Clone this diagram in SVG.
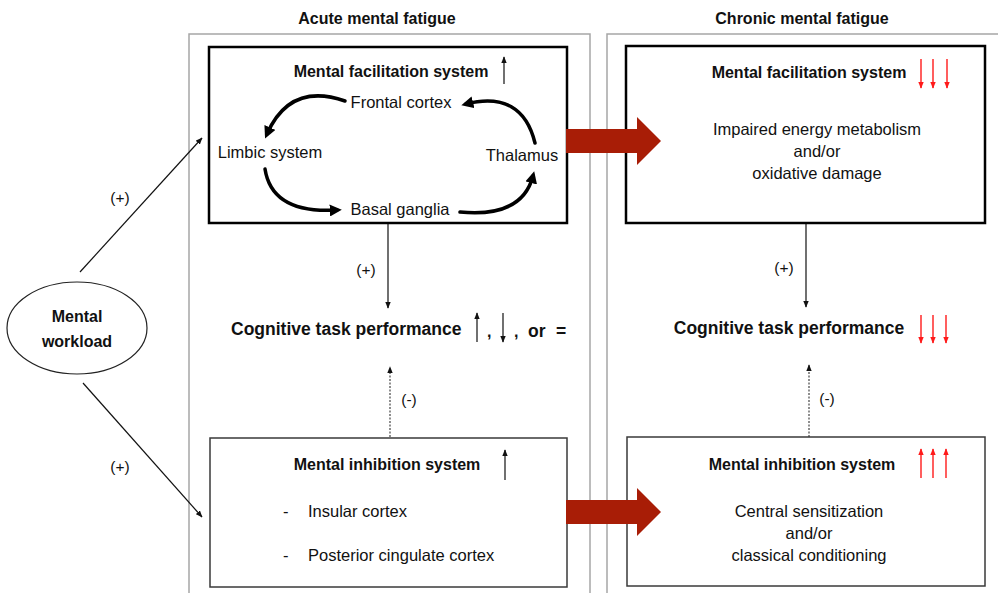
<svg xmlns="http://www.w3.org/2000/svg" width="998" height="593" viewBox="0 0 998 593">
  <style>
    text { font-family: "Liberation Sans", Arial, sans-serif; fill: #111; }
    .b { font-weight: bold; font-size: 16px; }
    .bl { font-weight: bold; font-size: 17.5px; }
    .r { font-size: 16.5px; }
    .s { font-size: 15.5px; }
    .mid { text-anchor: middle; }
    .panel { fill: none; stroke: #a6a6a6; stroke-width: 1.5; }
    .box1 { fill: #fff; stroke: #000; stroke-width: 2.5; }
    .box2 { fill: #fff; stroke: #3a3a3a; stroke-width: 1.5; }
    .ln { fill: none; stroke: #111; stroke-width: 1.2; }
    .dash { fill: none; stroke: #444; stroke-width: 1.2; stroke-dasharray: 2 1.5; }
    .loop { fill: none; stroke: #000; stroke-width: 3.5; stroke-linecap: round; }
    .red { fill: none; stroke: #ff1a1a; stroke-width: 1.4; }
    .blk { fill: #a81d06; }
  </style>
  <defs>
    <marker id="ah" viewBox="0 0 10 8" refX="9" refY="4" markerWidth="7" markerHeight="6" markerUnits="userSpaceOnUse" orient="auto">
      <path d="M0,0 L10,4 L0,8 z" fill="#111"/>
    </marker>
    <marker id="ahr" viewBox="0 0 10 8" refX="9" refY="4" markerWidth="7" markerHeight="6" markerUnits="userSpaceOnUse" orient="auto">
      <path d="M0,0 L10,4 L0,8 z" fill="#ff1a1a"/>
    </marker>
    <marker id="ahl" viewBox="0 0 10 10" refX="6" refY="5" markerWidth="12" markerHeight="12" markerUnits="userSpaceOnUse" orient="auto">
      <path d="M0,0 L10,5 L0,10 z" fill="#000"/>
    </marker>
  </defs>

  <!-- phase panels -->
  <g id="panels">
    <path class="panel" d="M189,593 V34 H590 V593"/>
    <path class="panel" d="M607,593 V34 H999"/>
    <text class="b mid" x="377" y="24">Acute mental fatigue</text>
    <text class="b mid" x="802" y="24">Chronic mental fatigue</text>
  </g>

  <!-- connectors -->
  <g id="connectors">
    <line class="ln" x1="80" y1="272" x2="202" y2="138" marker-end="url(#ah)"/>
    <line class="ln" x1="83" y1="383" x2="202" y2="517" marker-end="url(#ah)"/>
    <text class="s mid" x="120" y="203">(+)</text>
    <text class="s mid" x="120" y="472">(+)</text>

    <line class="ln" x1="388" y1="224" x2="388" y2="308" marker-end="url(#ah)"/>
    <text class="s mid" x="366" y="275">(+)</text>
    <line class="ln" x1="806" y1="224" x2="806" y2="307" marker-end="url(#ah)"/>
    <text class="s mid" x="784" y="273">(+)</text>

    <line class="dash" x1="390" y1="437" x2="390" y2="367" marker-end="url(#ah)"/>
    <text class="s mid" x="409" y="405">(-)</text>
    <line class="dash" x1="809" y1="437" x2="809" y2="365" marker-end="url(#ah)"/>
    <text class="s mid" x="827" y="404">(-)</text>
  </g>

  <!-- workload source -->
  <g id="workload">
    <ellipse cx="77" cy="328" rx="70" ry="46" fill="#fff" stroke="#222" stroke-width="1.2"/>
    <text class="b mid" x="77" y="322">Mental</text>
    <text class="b mid" x="77" y="347">workload</text>
  </g>

  <!-- acute: facilitation loop -->
  <g id="acute-facilitation">
    <rect class="box1" x="209" y="47" width="358" height="176"/>
    <text class="b mid" x="391" y="77">Mental facilitation system</text>
    <line class="ln" x1="504" y1="84" x2="504" y2="57" marker-end="url(#ah)"/>
    <text class="r mid" x="401" y="108">Frontal cortex</text>
    <text class="r mid" x="270" y="158">Limbic system</text>
    <text class="r mid" x="522" y="161">Thalamus</text>
    <text class="r mid" x="400" y="215">Basal ganglia</text>
    <path class="loop" d="M345,101 Q290,82 267,134" marker-end="url(#ahl)"/>
    <path class="loop" d="M265,169 Q272,214 337,210" marker-end="url(#ahl)"/>
    <path class="loop" d="M460,212 Q522,218 533,176" marker-end="url(#ahl)"/>
    <path class="loop" d="M535,143 Q522,90 466,104" marker-end="url(#ahl)"/>
  </g>

  <!-- acute: performance -->
  <g id="acute-performance">
    <text class="bl" x="231" y="335">Cognitive task performance</text>
    <line class="ln" x1="477" y1="342" x2="477" y2="313" marker-end="url(#ah)"/>
    <text class="b" x="487" y="337">,</text>
    <line class="ln" x1="503" y1="313" x2="503" y2="342" marker-end="url(#ah)"/>
    <text class="b" x="514" y="337">,</text>
    <text class="bl" x="528" y="337">or</text>
    <text class="bl" x="556" y="337">=</text>
  </g>

  <!-- acute: inhibition -->
  <g id="acute-inhibition">
    <rect class="box2" x="210" y="438" width="357" height="149"/>
    <text class="b mid" x="387" y="470">Mental inhibition system</text>
    <line class="ln" x1="505" y1="480" x2="505" y2="450" marker-end="url(#ah)"/>
    <text class="r" x="283" y="517">-</text>
    <text class="r" x="308" y="517">Insular cortex</text>
    <text class="r" x="283" y="561">-</text>
    <text class="r" x="308" y="561">Posterior cingulate cortex</text>
  </g>

  <!-- chronic: facilitation -->
  <g id="chronic-facilitation">
    <rect class="box1" x="626" y="46" width="359" height="177"/>
    <text class="b mid" x="809" y="78">Mental facilitation system</text>
    <line class="red" x1="921" y1="59" x2="921" y2="88" marker-end="url(#ahr)"/>
    <line class="red" x1="933" y1="59" x2="933" y2="88" marker-end="url(#ahr)"/>
    <line class="red" x1="947" y1="59" x2="947" y2="88" marker-end="url(#ahr)"/>
    <text class="r mid" x="817" y="135">Impaired energy metabolism</text>
    <text class="r mid" x="817" y="157">and/or</text>
    <text class="r mid" x="817" y="179">oxidative damage</text>
  </g>

  <!-- chronic: performance -->
  <g id="chronic-performance">
    <text class="bl mid" x="789" y="334">Cognitive task performance</text>
    <line class="red" x1="921" y1="315" x2="921" y2="343" marker-end="url(#ahr)"/>
    <line class="red" x1="933" y1="315" x2="933" y2="343" marker-end="url(#ahr)"/>
    <line class="red" x1="946" y1="315" x2="946" y2="343" marker-end="url(#ahr)"/>
  </g>

  <!-- chronic: inhibition -->
  <g id="chronic-inhibition">
    <rect class="box2" x="627" y="437" width="358" height="149"/>
    <text class="b mid" x="802" y="470">Mental inhibition system</text>
    <line class="red" x1="921" y1="478" x2="921" y2="449" marker-end="url(#ahr)"/>
    <line class="red" x1="933" y1="478" x2="933" y2="449" marker-end="url(#ahr)"/>
    <line class="red" x1="946" y1="478" x2="946" y2="449" marker-end="url(#ahr)"/>
    <text class="r mid" x="809" y="517">Central sensitization</text>
    <text class="r mid" x="809" y="539">and/or</text>
    <text class="r mid" x="809" y="561">classical conditioning</text>
  </g>

  <!-- transition block arrows -->
  <g id="transitions">
    <path class="blk" d="M566,129 H637 V117 L661,141 L637,165 V153 H566 z"/>
    <path class="blk" d="M566,500 H637 V488 L661,512 L637,536 V524 H566 z"/>
  </g>
</svg>
